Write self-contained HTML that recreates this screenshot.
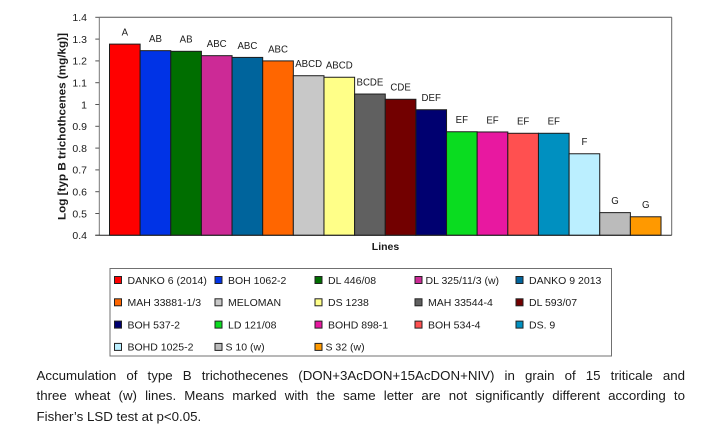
<!DOCTYPE html>
<html lang="en">
<head>
<meta charset="utf-8">
<title>Accumulation of type B trichothecenes</title>
<style>
html,body{margin:0;padding:0;background:#fff;width:717px;height:439px;overflow:hidden}
#chart{position:absolute;left:0;top:0}
svg text{font-family:"Liberation Sans",sans-serif;fill:#1a1a1a}
#caption{position:absolute;left:36.5px;top:365.8px;width:648.5px;font-family:"Liberation Sans",sans-serif;font-size:13.3px;line-height:20.4px;color:#1a1a1a}
#caption div{text-align:justify;text-align-last:justify;white-space:nowrap}
#caption div.last{text-align-last:left}
</style>
</head>
<body>
<svg id="chart" width="717" height="360" viewBox="0 0 717 360">
  <g id="plot-frame"></g>
  <g id="bars"></g>
  <g id="letters"></g>
  <g id="y-axis"></g>
  <text x="62" y="126.5" transform="rotate(-90 62 126.5)" dy="3.6" text-anchor="middle" font-size="10.8" font-weight="bold" textLength="187" lengthAdjust="spacingAndGlyphs">Log [typ B trichothcenes (mg/kg)]</text>
  <text x="385.5" y="249.8" text-anchor="middle" font-size="10.5" font-weight="bold">Lines</text>
  <rect x="110" y="268.5" width="501.5" height="87.5" fill="#fff" stroke="#707070" stroke-width="1"></rect>
  <g id="legend"></g>
</svg>
<div id="caption">
  <div>Accumulation of type B trichothecenes (DON+3AcDON+15AcDON+NIV) in grain of 15 triticale and</div>
  <div>three wheat (w) lines. Means marked with the same letter are not significantly different according to</div>
  <div class="last">Fisher’s LSD test at p&lt;0.05.</div>
</div>
<script>
const categories = ["DANKO 6 (2014)","BOH 1062-2","DL 446/08","DL 325/11/3 (w)","DANKO 9 2013","MAH 33881-1/3","MELOMAN","DS 1238","MAH 33544-4","DL 593/07","BOH 537-2","LD 121/08","BOHD 898-1","BOH 534-4","DS. 9","BOHD 1025-2","S 10 (w)","S 32 (w)"];
const values = [1.277,1.247,1.244,1.224,1.216,1.2,1.132,1.125,1.048,1.024,0.976,0.875,0.874,0.868,0.868,0.774,0.504,0.485];
const letters = ["A","AB","AB","ABC","ABC","ABC","ABCD","ABCD","BCDE","CDE","DEF","EF","EF","EF","EF","F","G","G"];
const colors = ["#ff0000","#0033e6","#006e00","#cc2a96","#00649c","#ff6600","#c8c8c8","#ffff88","#606060","#720000","#000070","#0adc20","#e818a0","#ff5050","#0090c0","#bbefff","#bbbbbb","#ff9900"];
const yTicks = [0.4,0.5,0.6,0.7,0.8,0.9,1,1.1,1.2,1.3,1.4];

const NS = "http://www.w3.org/2000/svg";
const yMin = 0.4, yMax = 1.4, plotTop = 17.3, plotBottom = 235.3, plotLeft = 99.3, plotRight = 671.7;
const barStart = 109.5, barStep = 30.64;
function yScale(v){ return plotBottom - (v - yMin) / (yMax - yMin) * (plotBottom - plotTop); }
function xScale(i){ return barStart + i * barStep; }
function make(tag, attrs, parent){
  const el = document.createElementNS(NS, tag);
  for (const k in attrs) el.setAttribute(k, attrs[k]);
  parent.appendChild(el);
  return el;
}

const frame = document.getElementById("plot-frame");
const topLine = make("line", {x1:plotLeft,y1:plotTop,x2:plotRight,y2:plotTop,stroke:"#555","stroke-width":1}, frame);


const rightLine = make("line", {x1:plotRight,y1:plotTop,x2:plotRight,y2:plotBottom,stroke:"#666","stroke-width":1}, frame);



const barsG = document.getElementById("bars");
const lettersG = document.getElementById("letters");
values.forEach(function(v, i){
  const y = yScale(v);
  const bar = make("rect", {x:xScale(i),y:y,width:barStep,height:plotBottom-y,fill:colors[i],stroke:"#1c1c1c","stroke-width":1}, barsG);
  
  
  const t = make("text", {x:xScale(i)+barStep/2,y:y-12.4,dy:3.8,"text-anchor":"middle","font-size":10.5}, lettersG);
  t.textContent = letters[i];
  
  
  t.setAttribute('textLength', t.getComputedTextLength() * 0.92);
  t.setAttribute('lengthAdjust', 'spacingAndGlyphs');
});

const yAxisG = document.getElementById("y-axis");
const leftLine = make("line", {x1:plotLeft,y1:plotTop,x2:plotLeft,y2:plotBottom,stroke:"#777","stroke-width":1}, yAxisG);


const baseLine = make("line", {x1:plotLeft-4,y1:plotBottom,x2:plotRight,y2:plotBottom,stroke:"#222","stroke-width":1}, yAxisG);


yTicks.forEach(function(v){
  const y = yScale(v);
  const tick = make("line", {x1:plotLeft-4,y1:y,x2:plotLeft,y2:y,stroke:"#555","stroke-width":1}, yAxisG);
  
  
  const lab = make("text", {x:87,y:y,dy:3.8,"text-anchor":"end","font-size":10.5}, yAxisG);
  lab.textContent = String(v);
  
  
});

const legendG = document.getElementById("legend");
categories.forEach(function(name, i){
  const col = i % 5, row = Math.floor(i / 5);
  const sx = [114.5, 215, 315, 415, 516][col];
  const tightLabel = (i === 3 || i === 16 || i === 17);
  const tx = tightLabel ? sx + 10.5 : sx + 13;
  const cy = 280 + row * 22.3;
  const sw = make("rect", {x:sx,y:cy-3.5,width:7,height:7,fill:colors[i],stroke:"#222","stroke-width":1}, legendG);
  
  
  const t = make("text", {x:tx,y:cy,dy:3.8,"font-size":10.5}, legendG);
  t.textContent = name;
  
  
});
</script>
</body>
</html>
